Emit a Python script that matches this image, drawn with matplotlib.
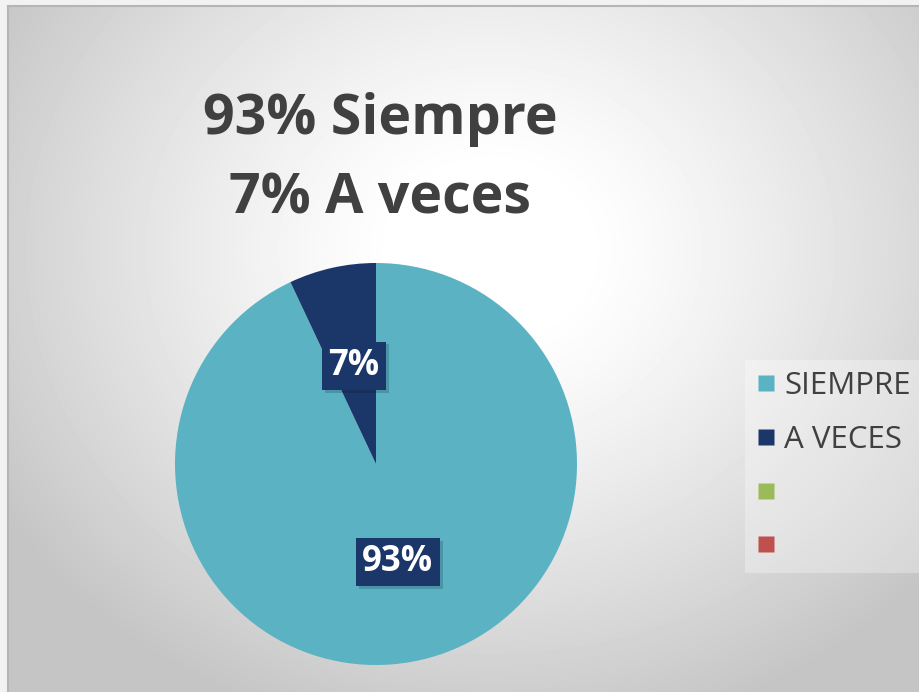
import numpy as np
import matplotlib
matplotlib.use("Agg")
import matplotlib.pyplot as plt
from matplotlib.lines import Line2D
from matplotlib import patheffects as pe

# Данные диаграммы
categories = ["SIEMPRE", "A VECES", "", ""]
values = [93, 7, 0, 0]
colors = ["#5AB2C3", "#1B3769", "#9BBB59", "#C0504D"]
title_lines = ["93% Siempre", "7% A veces"]

plt.rcParams['font.family'] = ['Open Sans', 'DejaVu Sans']

W, H = 920, 692
fig = plt.figure(figsize=(W / 100, H / 100), dpi=100, facecolor="#f2f2f2")

# Фон с радиальным градиентом
bg = fig.add_axes([8 / W, 0, (W - 8) / W, (H - 6) / H])
yy, xx = np.mgrid[6:H, 8:W]
d = np.hypot((xx - 490) / 1.15, yy - 250)
t = np.clip((d - 80) / 420, 0, 1)
shade = 1 - 0.23 * t ** 1.2
bg.imshow(shade, cmap="gray", vmin=0, vmax=1, aspect="auto", interpolation="bilinear")
bg.set_xticks([])
bg.set_yticks([])
for side in ["right", "bottom"]:
    bg.spines[side].set_visible(False)
for side in ["top", "left"]:
    bg.spines[side].set_color("#b5b5b5")
    bg.spines[side].set_linewidth(1.5)

# Заголовок
fig.text(380 / W, 1 - 134 / H, title_lines[0], ha="center", va="baseline",
         fontsize=40, fontweight="bold", color="#404040")
fig.text(380 / W, 1 - 213 / H, title_lines[1], ha="center", va="baseline",
         fontsize=40, fontweight="bold", color="#404040")

# Круговая диаграмма
cx, cy, r = 376, 464, 201
ax = fig.add_axes([(cx - r) / W, 1 - (cy + r) / H, 2 * r / W, 2 * r / H])
pie_vals = [v for v in values if v > 0]
pie_cols = [c for v, c in zip(values, colors) if v > 0]
wedges, texts, autotexts = ax.pie(pie_vals, colors=pie_cols, startangle=90,
                                  counterclock=False, radius=1,
                                  autopct=lambda p: f"{p:.0f}%", pctdistance=0.5,
                                  wedgeprops=dict(linewidth=0))
ax.set_xlim(-1, 1)
ax.set_ylim(-1, 1)
ax.set_aspect("equal")
for t in autotexts:
    t.set_color("white")
    t.set_fontsize(25)
    t.set_fontweight("bold")
    t.set_bbox(dict(boxstyle="square,pad=0.18", facecolor="#1B3769", edgecolor="none"))
    t.get_bbox_patch().set_path_effects([
        pe.SimplePatchShadow(offset=(2, -2), alpha=0.18), pe.Normal()])

# Легенда
handles = [Line2D([], [], marker="s", linestyle="none", markersize=11.5,
                  markerfacecolor=c, markeredgecolor="none") for c in colors]
leg = fig.legend(handles, categories, loc="upper left",
                 bbox_to_anchor=(745 / W, 1 - 360 / H), frameon=True,
                 fontsize=22.5, labelcolor="#404040", handlelength=0.65,
                 handletextpad=0.25, labelspacing=0.76, borderpad=0.35,
                 borderaxespad=0, fancybox=False)
leg.get_frame().set_facecolor("white")
leg.get_frame().set_alpha(0.3)
leg.get_frame().set_edgecolor("none")

fig.savefig("out.png", dpi=100, facecolor=fig.get_facecolor())
